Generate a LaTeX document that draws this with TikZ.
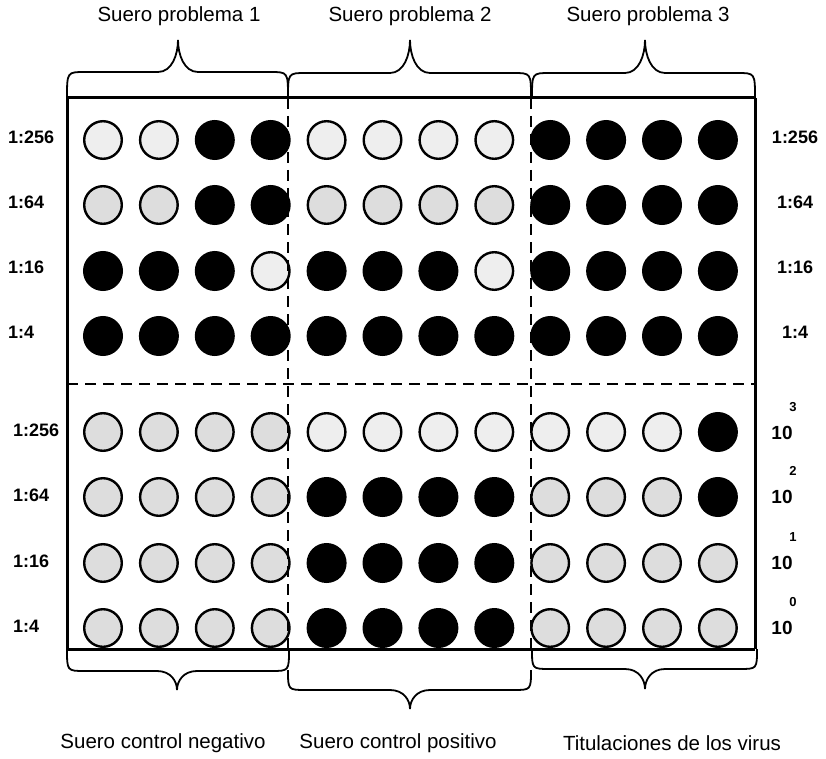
\documentclass[tikz,border=0pt]{standalone}
\usepackage{fontspec}
\setmainfont{Liberation Sans}
\newcommand\mybrace[6]{% x1, x2, yend, yhor, ypeak, xpeak
  \draw[brc] (#1,#3) .. controls (#1,#4) and (#1,#4) .. ({#1+18},#4) -- ({#6-20},#4)
    .. controls ({#6-6},#4) and (#6,{#5+0.45*(#4-#5)}) .. (#6,#5)
    .. controls (#6,{#5+0.45*(#4-#5)}) and ({#6+6},#4) .. ({#6+20},#4)
    -- ({#2-18},#4) .. controls (#2,#4) and (#2,#4) .. (#2,#3);
}
\begin{document}
\begin{tikzpicture}[x=1pt,y=-1pt,
  well/.style={circle,minimum size=37.6pt,inner sep=0pt,line width=2.4pt,draw=black},
  dk/.style={well,fill=black},
  lt/.style={well,fill=gray!13},
  md/.style={well,fill=gray!27},
  frame/.style={line width=3pt},
  sepline/.style={line width=2.4pt,dash pattern=on 11pt off 7pt},
  brc/.style={line width=1.8pt},
  ttl/.style={font=\fontsize{20.5}{24}\selectfont,inner sep=0pt},
  lab/.style={font=\fontsize{18}{20}\selectfont\bfseries,inner sep=0pt},
  ten/.style={font=\fontsize{19}{21}\selectfont\bfseries,inner sep=0pt},
  expo/.style={font=\fontsize{13}{15}\selectfont\bfseries,inner sep=0pt}]
\useasboundingbox (0,0) rectangle (826,759);
% wells
\foreach \r/\y/\types in {
  1/140/{lt,lt,dk,dk,lt,lt,lt,lt,dk,dk,dk,dk},
  2/205/{md,md,dk,dk,md,md,md,md,dk,dk,dk,dk},
  3/271/{dk,dk,dk,lt,dk,dk,dk,lt,dk,dk,dk,dk},
  4/336/{dk,dk,dk,dk,dk,dk,dk,dk,dk,dk,dk,dk},
  5/432/{md,md,md,md,lt,lt,lt,lt,lt,lt,lt,dk},
  6/497/{md,md,md,md,dk,dk,dk,dk,md,md,md,dk},
  7/563/{md,md,md,md,dk,dk,dk,dk,md,md,md,md},
  8/628/{md,md,md,md,dk,dk,dk,dk,md,md,md,md}}{
  \foreach \t [count=\c] in \types {
    \node[\t] (w-\r-\c) at ({103+(\c-1)*55.9},\y) {};
  }
}
% frame
\coordinate (tl) at (67,98);
\coordinate (tr) at (755,98);
\coordinate (bl) at (67,649);
\coordinate (br) at (755,649);
\draw[frame] (tl) -- (tr);
\draw[frame] (bl) -- (br);
\draw[frame] (tl) -- (bl);
\draw[frame] (tr) -- (br);
\coordinate (d1t) at (288,98);
\coordinate (d1b) at (288,649);
\coordinate (d2t) at (531,98);
\coordinate (d2b) at (531,649);
\coordinate (hl) at (67,384);
\coordinate (hr) at (755,384);
\draw[sepline] (d1t) -- (d1b);
\draw[sepline] (d2t) -- (d2b);
\draw[sepline] (hl) -- (hr);
% braces
\mybrace{67}{288}{98}{72}{40}{178}
\mybrace{288}{531}{98}{73}{40}{410}
\mybrace{532}{755}{98}{73}{40}{645}
\mybrace{67}{289}{649}{671}{690}{177}
\mybrace{288}{531}{670}{690}{709}{410}
\mybrace{532}{757}{649}{669}{689}{645}
% titles
\node[ttl] (t1) at (179,16) {Suero problema 1};
\node[ttl] (t2) at (410,16) {Suero problema 2};
\node[ttl] (t3) at (648,16) {Suero problema 3};
\node[ttl] (b1) at (163,743) {Suero control negativo};
\node[ttl] (b2) at (398,743) {Suero control positivo};
\node[ttl] (b3) at (672,743) {Titulaciones de los virus};
% row labels
\foreach \y/\t [count=\i] in {137/1:256,202/1:64,267/1:16,332/1:4}{
  \node[lab,anchor=west] (la-\i) at (8,\y) {\t};
  \node[lab] (ra-\i) at (795,\y) {\t};
}
\foreach \y/\t [count=\i] in {430/1:256,495/1:64,561/1:16,626/1:4}{
  \node[lab,anchor=west] (lb-\i) at (13,\y) {\t};
}
\foreach \y/\e [count=\i] in {433/3,497/2,563/1,628/0}{
  \node[ten] (ten-\i) at (782,\y) {10};
  \node[expo] (ex-\i) at (793,{\y-26}) {\e};
}
\end{tikzpicture}
\end{document}
